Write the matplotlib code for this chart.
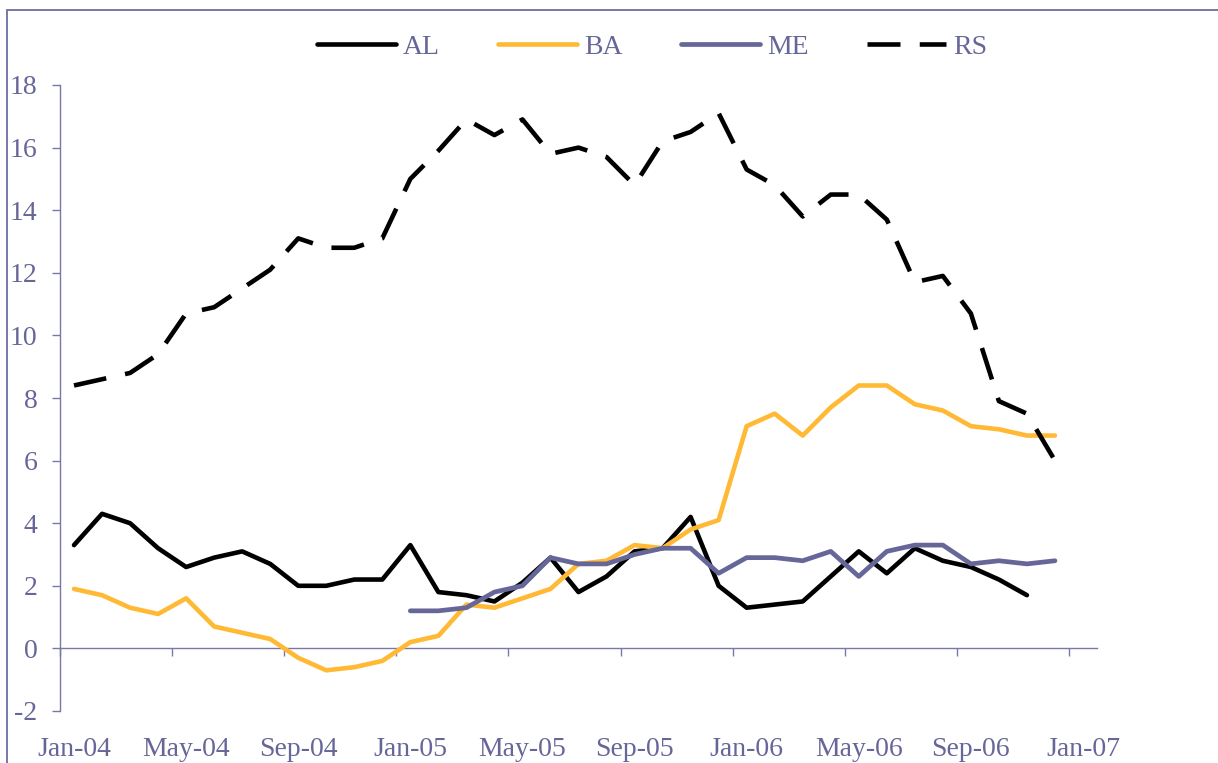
import numpy as np
import matplotlib
matplotlib.use("Agg")
import matplotlib.pyplot as plt
from matplotlib.patches import Rectangle
from matplotlib.ticker import FixedLocator, FixedFormatter, NullFormatter

nan = np.nan
# Monthly observations, Jan-04 .. Dec-06
AL = [3.3, 4.3, 4.0, 3.2, 2.6, 2.9, 3.1, 2.7, 2.0, 2.0, 2.2, 2.2,
      3.3, 1.8, 1.7, 1.5, 2.1, 2.9, 1.8, 2.3, 3.1, 3.2, 4.2, 2.0,
      1.3, 1.4, 1.5, 2.3, 3.1, 2.4, 3.2, 2.8, 2.6, 2.2, 1.7, nan]
BA = [1.9, 1.7, 1.3, 1.1, 1.6, 0.7, 0.5, 0.3, -0.3, -0.7, -0.6, -0.4,
      0.2, 0.4, 1.4, 1.3, 1.6, 1.9, 2.7, 2.8, 3.3, 3.2, 3.8, 4.1,
      7.1, 7.5, 6.8, 7.7, 8.4, 8.4, 7.8, 7.6, 7.1, 7.0, 6.8, 6.8]
ME = [nan] * 12 + [1.2, 1.2, 1.3, 1.8, 2.0, 2.9, 2.7, 2.7, 3.0, 3.2, 3.2, 2.4,
                   2.9, 2.9, 2.8, 3.1, 2.3, 3.1, 3.3, 3.3, 2.7, 2.8, 2.7, 2.8]
RS = [8.4, 8.6, 8.8, 9.4, 10.7, 10.9, 11.5, 12.1, 13.1, 12.8, 12.8, 13.1,
      15.0, 15.9, 16.9, 16.4, 16.9, 15.8, 16.0, 15.7, 14.8, 16.2, 16.5, 17.1,
      15.3, 14.8, 13.8, 14.5, 14.5, 13.7, 11.7, 11.9, 10.7, 7.9, 7.5, 6.0]
tick_labels = ["Jan-04", "May-04", "Sep-04", "Jan-05", "May-05", "Sep-05",
               "Jan-06", "May-06", "Sep-06", "Jan-07"]
y_ticks = [-2, 0, 2, 4, 6, 8, 10, 12, 14, 16, 18]

plt.rcParams['font.family'] = ['Liberation Serif', 'DejaVu Serif']
plt.rcParams['axes.unicode_minus'] = False
TXT = '#666699'
AX = '#7777AA'

fig = plt.figure(figsize=(12.18, 7.63), dpi=100)
ax = fig.add_axes([60 / 1218, 1 - 711 / 763, (1097 - 60) / 1218, (711 - 85) / 763])

x = np.arange(len(BA)) + 0.5  # monthly points centred in each month
ax.plot(x, AL, color='black', lw=3.3, solid_capstyle='round', label='AL', zorder=3)
ax.plot(x, BA, color='#FFB935', lw=3.3, solid_capstyle='round', label='BA', zorder=3)
ax.plot(x, ME, color='#666699', lw=3.4, solid_capstyle='round', label='ME', zorder=3)
ax.plot(x, RS, color='black', lw=3.3, dashes=(7.2, 4.2), dash_capstyle='butt',
        label='RS', zorder=4)

ax.set_xlim(0, 37)
ax.set_ylim(-2, 18)

for s in ['top', 'right']:
    ax.spines[s].set_visible(False)
ax.spines['bottom'].set_position(('data', 0))
ax.spines['bottom'].set_color(AX)
ax.spines['left'].set_color(AX)
ax.spines['bottom'].set_linewidth(1.0)
ax.spines['left'].set_linewidth(1.0)

major = [4 * k for k in range(len(tick_labels))]
ax.xaxis.set_major_locator(FixedLocator(major))
ax.xaxis.set_major_formatter(NullFormatter())
ax.xaxis.set_minor_locator(FixedLocator([m + 0.5 for m in major]))
ax.xaxis.set_minor_formatter(FixedFormatter(tick_labels))
ax.tick_params(axis='x', which='major', direction='out', length=5.8, width=1.0, color=AX)
ax.tick_params(axis='x', which='minor', length=0, pad=64, labelsize=20, labelcolor=TXT)

ax.set_yticks(y_ticks)
ax.tick_params(axis='y', direction='out', length=5.8, width=1.0, color=AX,
               pad=10.5, labelsize=20, labelcolor=TXT)

leg = fig.legend(loc='center', bbox_to_anchor=(652 / 1218, 1 - 47 / 763), ncol=4,
                 frameon=False, fontsize=20, handlelength=2.85, handletextpad=0.25,
                 columnspacing=2.1, borderpad=0)
for t in leg.get_texts():
    t.set_color(TXT)

fig.patches.append(Rectangle((7 / 1218, -0.1), 1.2, 1.1 - 10 / 763, transform=fig.transFigure,
                             fill=False, edgecolor=AX, lw=1.4, zorder=0))

fig.savefig('out.png', dpi=100)
